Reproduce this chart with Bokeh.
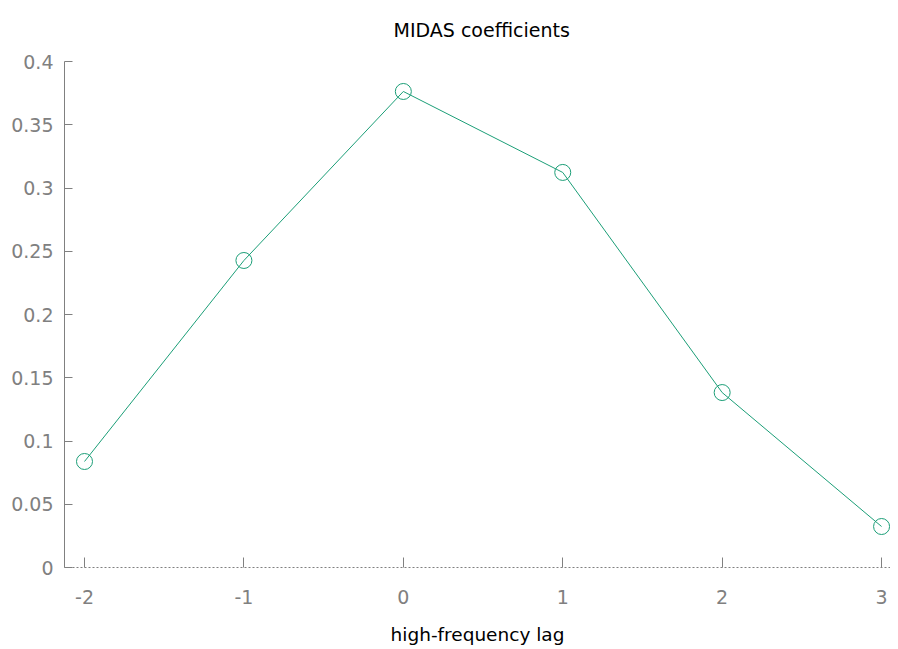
from bokeh.plotting import figure
from bokeh.models import FixedTicker, Range1d
from bokeh.embed import file_html
from bokeh.resources import INLINE

lags = [-2, -1, 0, 1, 2, 3]
coefs = [0.0838, 0.2427, 0.3763, 0.3123, 0.1383, 0.0324]
y_ticks = [0, 0.05, 0.1, 0.15, 0.2, 0.25, 0.3, 0.35, 0.4]
y_tick_labels = {0: "0", 0.05: "0.05", 0.1: "0.1", 0.15: "0.15", 0.2: "0.2",
                 0.25: "0.25", 0.3: "0.3", 0.35: "0.35", 0.4: "0.4"}
x_tick_labels = {-2: "-2", -1: "-1", 0: "0", 1: "1", 2: "2", 3: "3"}
title_text = "MIDAS coefficients"
x_label = "high-frequency lag"

FONT = "DejaVu Sans"
GRAY = "#808080"
GREEN = "#1b9e77"

p = figure(width=890, height=647, output_backend="svg", toolbar_location=None,
           x_range=Range1d(-2.1255, 3.056), y_range=Range1d(0, 0.4),
           min_border_left=64, min_border_right=0, min_border_top=60,
           min_border_bottom=80)
p.outline_line_color = None
p.grid.grid_line_color = None
p.background_fill_color = "white"
p.border_fill_color = "white"

p.title.text = title_text
p.title.align = "left"
p.title.offset = 329
p.title.vertical_align = "top"
p.title.text_font = FONT
p.title.text_font_size = "19px"
p.title.text_font_style = "normal"
p.title.text_color = "#000000"
p.title.standoff = 37

p.line(lags, coefs, line_color=GREEN, line_width=1)
p.scatter(lags, coefs, size=16, marker="circle", fill_color=None,
          line_color=GREEN, line_width=1)

xa = p.xaxis[0]
xa.ticker = FixedTicker(ticks=lags)
xa.major_label_overrides = x_tick_labels
xa.axis_line_color = GRAY
xa.axis_line_dash = "2 2"
xa.major_tick_line_color = GRAY
xa.major_tick_in = 10
xa.major_tick_out = 0
xa.minor_tick_line_color = None
xa.major_label_text_font = FONT
xa.major_label_text_font_size = "19px"
xa.major_label_text_color = GRAY
xa.major_label_standoff = 22
xa.axis_label = x_label
xa.axis_label_text_font = FONT
xa.axis_label_text_font_size = "18.5px"
xa.axis_label_text_font_style = "normal"
xa.axis_label_text_color = "#000000"
xa.axis_label_standoff = 17

ya = p.yaxis[0]
ya.ticker = FixedTicker(ticks=y_ticks)
ya.major_label_overrides = y_tick_labels
ya.axis_line_color = GRAY
ya.major_tick_line_color = GRAY
ya.major_tick_in = 8
ya.major_tick_out = 0
ya.minor_tick_line_color = None
ya.major_label_text_font = FONT
ya.major_label_text_font_size = "19px"
ya.major_label_text_color = GRAY
ya.major_label_standoff = 11

open("out.html", "w").write(file_html(p, INLINE))
